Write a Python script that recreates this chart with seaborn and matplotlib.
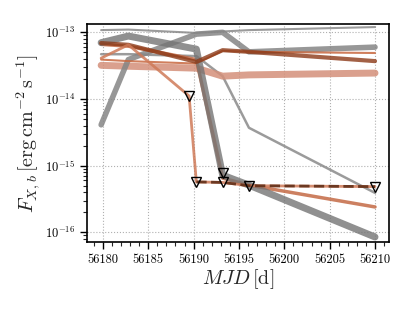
import numpy as np
import pandas as pd
import matplotlib
matplotlib.use("Agg")
import matplotlib.pyplot as plt
import matplotlib.ticker as mticker
import seaborn as sns

# ---- data ----
mjd = [56179.8, 56182.8, 56190.3, 56193.2, 56196.1, 56210.0]

gray_top   = [1.08e-13, 1.10e-13, 9.8e-14, 1.03e-13, 1.08e-13, 1.20e-13]
gray_rise  = [4.1e-15, 3.9e-14, 9.4e-14, 1.0e-13, 5.1e-14, 6.0e-14]
gray_big   = [7.0e-14, 8.8e-14, 5.6e-14, 7.2e-16, 5.1e-16, 8.5e-17]
gray_thin  = [4.7e-14, 4.7e-14, 4.4e-14, 2.2e-14, 3.7e-15, 3.9e-16]

or_brown   = [6.9e-14, 6.5e-14, 3.6e-14, 5.4e-14, 5.1e-14, 3.7e-14]
or_mid     = [6.6e-14, 6.2e-14, 3.9e-14, 6.5e-16, 5.1e-16, 2.4e-16]
or_thin    = [3.9e-14, 3.7e-14, 3.4e-14, 5.3e-14, 5.1e-14, 4.9e-14]
or_light   = [3.2e-14, 3.1e-14, 2.9e-14, 2.2e-14, 2.3e-14, 2.45e-14]

mjd_lim    = [56179.8, 56182.8, 56189.5, 56190.3, 56193.2, 56196.1, 56210.0]
or_limit   = [4.1e-14, 6.5e-14, 1.11e-14, 5.7e-16, 5.6e-16, 5.0e-16, 4.85e-16]

ul_mjd     = [56189.5, 56190.3, 56193.2, 56193.2, 56196.1, 56210.0]
ul_flux    = [1.11e-14, 5.7e-16, 7.8e-16, 5.6e-16, 5.0e-16, 4.85e-16]
dash_mjd   = [56190.3, 56193.2, 56196.1, 56210.0]
dash_flux  = [5.7e-16, 5.6e-16, 5.0e-16, 4.85e-16]

xticks = [56180, 56185, 56190, 56195, 56200, 56205, 56210]
yticks = [1e-16, 1e-15, 1e-14, 1e-13]

# ---- style ----
sns.set_style("ticks")
plt.rcParams["font.family"] = "serif"
plt.rcParams["font.serif"] = ["cmr10", "DejaVu Serif"]
plt.rcParams["mathtext.fontset"] = "cm"
plt.rcParams["axes.formatter.use_mathtext"] = True
plt.rcParams["axes.unicode_minus"] = False

fig = plt.figure(figsize=(4.15, 3.11), dpi=100)
ax = fig.add_axes([0.2096, 0.2209, 0.7277, 0.7019])

def line(x, y, color, lw, alpha=0.85, **kw):
    sns.lineplot(x=x, y=y, ax=ax, color=color, lw=lw, alpha=alpha,
                 estimator=None, sort=False, legend=False, **kw)

line(mjd, gray_top, "#8a8a8a", 1.5)
line(mjd, gray_thin, "#8a8a8a", 1.8)
line(mjd, or_light, "#d4907a", 5.0, alpha=0.85)
line(mjd, gray_rise, "#858585", 4.0)
line(mjd, or_thin, "#c8683f", 1.5)
line(mjd, or_mid, "#c46a45", 2.5)
line(mjd, gray_big, "#747474", 5.0, alpha=0.8)
line(mjd, or_brown, "#8c3a18", 3.0, alpha=0.8)
line(mjd_lim, or_limit, "#cf7a58", 2.0, alpha=0.85)
line(dash_mjd, dash_flux, "#5a2a14", 2.0, alpha=0.85, linestyle="--")
ax.plot(ul_mjd, ul_flux, linestyle="none", marker="v", markersize=7,
        markerfacecolor="none", markeredgecolor="black", markeredgewidth=1.0)

ax.set_yscale("log")
ax.set_xlim(56178.24, 56211.54)
ax.set_ylim(10**-16.15, 10**-12.875)
ax.set_xticks(xticks)
ax.xaxis.set_minor_locator(mticker.MultipleLocator(1))
ax.xaxis.set_major_formatter(mticker.FormatStrFormatter("%d"))
ax.set_yticks(yticks)
ax.yaxis.set_major_formatter(mticker.LogFormatterSciNotation())
ax.yaxis.set_minor_locator(mticker.LogLocator(base=10, subs=np.arange(2, 10), numticks=20))
ax.yaxis.set_minor_formatter(mticker.NullFormatter())

ax.grid(True, which="major", linestyle=":", color="#b0b0b0", linewidth=0.8)
ax.tick_params(which="major", direction="out", length=5, width=1.0, labelsize=9, colors="black")
ax.tick_params(which="minor", direction="out", length=3, width=0.8)
for s in ax.spines.values():
    s.set_linewidth(1.2)
    s.set_color("black")

ax.set_xlabel(r"$MJD\,[\mathrm{d}]$", fontsize=14.5, labelpad=1)
ax.set_ylabel(r"$F_{X,b}\,[\mathrm{erg\,cm^{-2}\,s^{-1}}]$", fontsize=14.5, labelpad=2)

fig.savefig("out.png", dpi=100)
